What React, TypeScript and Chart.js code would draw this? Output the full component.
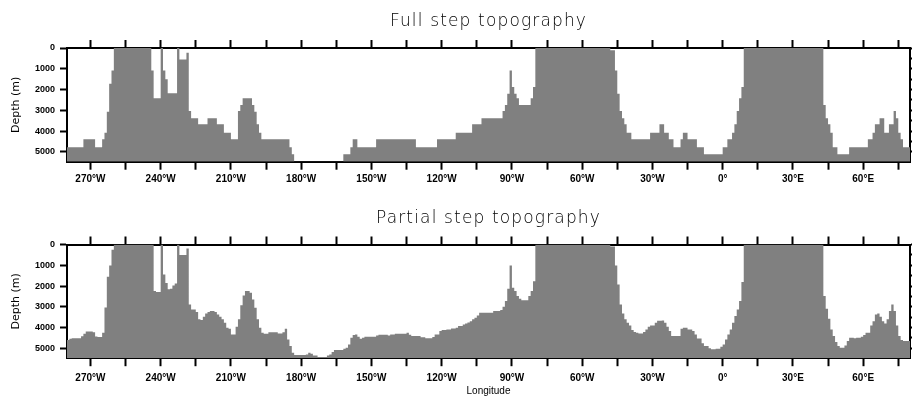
import React, { useEffect, useRef } from 'react';
import { Chart, registerables } from 'chart.js';

Chart.register(...registerables);

// ---------------- data ----------------
const LON_MIN = -280;
const LON_MAX = 80;
const DEPTH_MAX = 5475;

const panelTitles = ['Full step topography', 'Partial step topography'];
const xAxisTitle = 'Longitude';
const yAxisTitle = 'Depth (m)';

const lonTickValues = [-270, -255, -240, -225, -210, -195, -180, -165, -150, -135, -120, -105, -90, -75, -60, -45, -30, -15, 0, 15, 30, 45, 60, 75];
const lonLabelValues = [-270, -240, -210, -180, -150, -120, -90, -60, -30, 0, 30, 60];
const lonLabelTexts = ['270°W', '240°W', '210°W', '180°W', '150°W', '120°W', '90°W', '60°W', '30°W', '0°', '30°E', '60°E'];

const depthTickValues = [0, 500, 1000, 1500, 2000, 2500, 3000, 3500, 4000, 4500, 5000];
const depthLabelValues = [0, 1000, 2000, 3000, 4000, 5000];

// one value per 1° column, from 280°W eastward
const fullStepDepth = [
  4780, 4780, 4780, 4780, 4780, 4780, 4780, 4395, 4395, 4395,
  4395, 4395, 4780, 4780, 4780, 4395, 4075, 3070, 1720, 1080,
  0, 0, 0, 0, 0, 0, 0, 0, 0, 0,
  0, 0, 0, 0, 0, 0, 1080, 2424, 2424, 2424,
  0, 1080, 1510, 2183, 2183, 2183, 2183, 0, 550, 550,
  550, 230, 3030, 3386, 3386, 3386, 3675, 3675, 3675, 3675,
  3386, 3386, 3386, 3386, 3675, 3675, 3675, 4075, 4075, 4075,
  4395, 4395, 4395, 3030, 2745, 2424, 2424, 2424, 2424, 2745,
  3065, 3675, 4075, 4395, 4395, 4395, 4395, 4395, 4395, 4395,
  4395, 4395, 4395, 4395, 4395, 4780, 5115, 5600, 5600, 5600,
  5600, 5600, 5600, 5600, 5600, 5600, 5600, 5600, 5600, 5600,
  5600, 5600, 5600, 5600, 5600, 5600, 5600, 5600, 5115, 5115,
  5115, 4780, 4395, 4395, 4780, 4780, 4780, 4780, 4780, 4780,
  4780, 4780, 4395, 4395, 4395, 4395, 4395, 4395, 4395, 4395,
  4395, 4395, 4395, 4395, 4395, 4395, 4395, 4395, 4395, 4780,
  4780, 4780, 4780, 4780, 4780, 4780, 4780, 4780, 4395, 4395,
  4395, 4395, 4395, 4395, 4395, 4395, 4075, 4075, 4075, 4075,
  4075, 4075, 4075, 3675, 3675, 3675, 3675, 3386, 3386, 3386,
  3386, 3386, 3386, 3386, 3386, 3386, 3030, 2745, 2200, 1080,
  1880, 2200, 2424, 2745, 2745, 2745, 2745, 2745, 2424, 1880,
  0, 0, 0, 0, 0, 0, 0, 0, 0, 0,
  0, 0, 0, 0, 0, 0, 0, 0, 0, 0,
  0, 0, 0, 0, 0, 0, 0, 0, 0, 0,
  0, 0, 110, 110, 1080, 2200, 3030, 3386, 3675, 4075,
  4075, 4395, 4395, 4395, 4395, 4395, 4395, 4395, 4395, 4075,
  4075, 4075, 4075, 3675, 3675, 4075, 4075, 4395, 4395, 4780,
  4780, 4780, 4395, 4075, 4075, 4395, 4395, 4395, 4395, 4780,
  4780, 4780, 5115, 5115, 5115, 5115, 5115, 5115, 5115, 5115,
  4780, 4780, 4395, 4395, 4075, 3675, 3030, 2424, 1880, 0,
  0, 0, 0, 0, 0, 0, 0, 0, 0, 0,
  0, 0, 0, 0, 0, 0, 0, 0, 0, 0,
  0, 0, 0, 0, 0, 0, 0, 0, 0, 0,
  0, 0, 0, 2745, 3386, 3675, 4075, 4780, 4780, 5115,
  5115, 5115, 5115, 5115, 4780, 4780, 4780, 4780, 4780, 4780,
  4780, 4780, 4395, 4395, 4075, 3675, 3675, 3386, 3386, 4075,
  4075, 3675, 3675, 3030, 3386, 4075, 4395, 4780, 4780, 4780,
];

const partialStepDepth = [
  4600, 4540, 4520, 4520, 4520, 4520, 4420, 4300, 4185, 4185,
  4185, 4230, 4430, 4460, 4460, 4250, 3030, 1550, 1010, 250,
  0, 0, 0, 0, 0, 0, 0, 0, 0, 0,
  0, 0, 0, 0, 0, 0, 0, 2245, 2290, 2290,
  0, 1440, 1850, 2160, 2130, 1970, 1875, 0, 510, 510,
  510, 190, 2885, 3125, 3125, 3255, 3600, 3630, 3480, 3320,
  3250, 3205, 3205, 3255, 3370, 3480, 3600, 3770, 4010, 4055,
  4330, 4330, 3960, 3600, 2930, 2450, 2245, 2245, 2325, 2645,
  3045, 3600, 4010, 4250, 4300, 4300, 4230, 4230, 4230, 4230,
  4290, 4290, 4220, 4055, 4570, 4890, 5210, 5320, 5320, 5320,
  5320, 5320, 5300, 5210, 5260, 5340, 5340, 5420, 5420, 5420,
  5420, 5340, 5300, 5180, 5080, 5080, 5080, 5080, 5020, 4970,
  4810, 4490, 4360, 4330, 4440, 4540, 4490, 4440, 4440, 4440,
  4440, 4440, 4380, 4345, 4345, 4345, 4345, 4380, 4330, 4330,
  4300, 4300, 4300, 4300, 4300, 4250, 4345, 4400, 4400, 4410,
  4410, 4470, 4470, 4520, 4520, 4520, 4460, 4330, 4330, 4170,
  4120, 4120, 4090, 4090, 4040, 4040, 4010, 3925, 3925, 3850,
  3800, 3750, 3690, 3605, 3530, 3415, 3285, 3285, 3285, 3285,
  3285, 3285, 3205, 3205, 3205, 3155, 3000, 2725, 2130, 1010,
  2085, 2245, 2485, 2610, 2690, 2690, 2690, 2485, 2245, 1765,
  0, 0, 0, 0, 0, 0, 0, 0, 0, 0,
  0, 0, 0, 0, 0, 0, 0, 0, 0, 0,
  0, 0, 0, 0, 0, 0, 0, 0, 0, 0,
  0, 0, 100, 100, 1010, 1925, 2885, 3320, 3605, 3770,
  3895, 4120, 4215, 4250, 4280, 4280, 4215, 4090, 3960, 3895,
  3895, 3770, 3670, 3670, 3655, 3770, 3960, 4170, 4410, 4410,
  4410, 4410, 4055, 4010, 4010, 4090, 4090, 4170, 4330, 4530,
  4530, 4760, 4890, 4890, 5000, 5050, 5050, 5020, 5020, 4920,
  4810, 4570, 4330, 4090, 3765, 3445, 3125, 2725, 1810, 0,
  0, 0, 0, 0, 0, 0, 0, 0, 0, 0,
  0, 0, 0, 0, 0, 0, 0, 0, 0, 0,
  0, 0, 0, 0, 0, 0, 0, 0, 0, 0,
  0, 0, 0, 2485, 3095, 3575, 4090, 4410, 4700, 4890,
  4970, 4970, 4860, 4650, 4490, 4490, 4520, 4490, 4490, 4440,
  4360, 4250, 4250, 3895, 3690, 3365, 3320, 3480, 3690, 3800,
  3605, 3205, 2885, 3205, 3895, 4410, 4600, 4650, 4650, 4650,
];

// ---------------- layout / style ----------------
const CANVAS_W = 912;
const FILL = '#808080';
const TICK_FONT = '"Liberation Sans", Arial, sans-serif';
const DEPTH_FONT = '"Liberation Sans Narrow", "Liberation Sans", Arial, sans-serif';

const panelLayouts = [
  { canvasTop: 0, height: 198, areaTop: 48, areaBottom: 161.7, xLabelPad: 4, showXTitle: false, titleBaseline: 26 },
  { canvasTop: 198, height: 198, areaTop: 46.5, areaBottom: 160.2, xLabelPad: 6, showXTitle: true, titleBaseline: 25.3 },
];

const panelTitlePlugin = {
  id: 'panelTitle',
  afterDraw(chart: any, _args: any, opts: any) {
    const { ctx, chartArea } = chart;
    ctx.save();
    ctx.font = '200 17px "DejaVu Sans", sans-serif';
    ctx.fillStyle = '#000';
    ctx.textAlign = 'center';
    ctx.textBaseline = 'alphabetic';
    (ctx as any).letterSpacing = '1.15px';
    ctx.fillText(opts.text, (chartArea.left + chartArea.right) / 2, opts.baseline);
    ctx.restore();
  },
};

function lonLabel(v: number): string {
  const i = lonLabelValues.indexOf(v);
  return i >= 0 ? lonLabelTexts[i] : '';
}

function TopoPanel({ title, depths, layout }: { title: string; depths: number[]; layout: any }) {
  const ref = useRef<HTMLCanvasElement | null>(null);

  useEffect(() => {
    const canvas = ref.current;
    if (!canvas) return;
    const points = depths.map((d, k) => ({ x: LON_MIN + k, y: d }));
    points.push({ x: LON_MAX, y: depths[depths.length - 1] });

    const gridCommon = {
      drawOnChartArea: false,
      drawTicks: true,
      tickWidth: 2,
      tickColor: '#000',
    };
    const borderCommon = { display: true, color: '#000', width: 2 };

    const chart = new Chart(canvas, {
      type: 'line',
      data: {
        datasets: [
          {
            data: points,
            stepped: 'before',
            fill: { value: DEPTH_MAX },
            backgroundColor: FILL,
            borderColor: 'rgba(0,0,0,0)',
            borderWidth: 0,
            pointRadius: 0,
            xAxisID: 'x',
            yAxisID: 'y',
          } as any,
        ],
      },
      options: {
        animation: false,
        responsive: false,
        maintainAspectRatio: false,
        devicePixelRatio: 1,
        events: [],
        layout: { padding: 0 },
        plugins: {
          legend: { display: false },
          tooltip: { enabled: false },
          title: { display: false },
          panelTitle: { text: title, baseline: layout.titleBaseline },
        } as any,
        scales: {
          x: {
            type: 'linear',
            position: 'bottom',
            min: LON_MIN,
            max: LON_MAX,
            afterBuildTicks: (s: any) => {
              s.ticks = lonTickValues.map((v) => ({ value: v }));
            },
            afterFit: (s: any) => {
              s.height = layout.height - layout.areaBottom;
            },
            ticks: {
              autoSkip: false,
              maxRotation: 0,
              minRotation: 0,
              padding: layout.xLabelPad,
              color: '#000',
              font: { family: TICK_FONT, size: 10, weight: 'bold' },
              callback: (v: any) => lonLabel(Number(v)),
            },
            grid: { ...gridCommon, tickLength: 8 },
            border: borderCommon,
            title: {
              display: layout.showXTitle,
              text: xAxisTitle,
              color: '#000',
              font: { family: TICK_FONT, size: 10, lineHeight: 1 },
              padding: { top: 0, bottom: 0 },
            },
          },
          xTop: {
            type: 'linear',
            position: 'top',
            min: LON_MIN,
            max: LON_MAX,
            afterBuildTicks: (s: any) => {
              s.ticks = lonTickValues.map((v) => ({ value: v }));
            },
            afterFit: (s: any) => {
              s.height = layout.areaTop;
            },
            ticks: { display: false },
            grid: { ...gridCommon, tickLength: 8 },
            border: borderCommon,
          },
          y: {
            type: 'linear',
            position: 'left',
            reverse: true,
            min: 0,
            max: DEPTH_MAX,
            afterBuildTicks: (s: any) => {
              s.ticks = depthTickValues.map((v) => ({ value: v }));
            },
            afterFit: (s: any) => {
              s.width = 67;
            },
            ticks: {
              padding: 5,
              color: '#000',
              font: { family: DEPTH_FONT, size: 9, weight: 'bold' },
              callback: (v: any) => (depthLabelValues.indexOf(Number(v)) >= 0 ? String(v) : ''),
            },
            grid: { ...gridCommon, tickLength: 7 },
            border: borderCommon,
            title: {
              display: true,
              text: yAxisTitle,
              color: '#000',
              font: { family: '"DejaVu Sans", sans-serif', size: 11 },
              padding: { top: 10, bottom: 0 },
            },
          },
          yRight: {
            type: 'linear',
            position: 'right',
            reverse: true,
            min: 0,
            max: DEPTH_MAX,
            afterBuildTicks: (s: any) => {
              s.ticks = depthTickValues.map((v) => ({ value: v }));
            },
            afterFit: (s: any) => {
              s.width = 2;
            },
            ticks: { display: false },
            grid: { ...gridCommon, tickLength: 6 },
            border: borderCommon,
          },
        } as any,
      },
      plugins: [panelTitlePlugin as any],
    });

    return () => chart.destroy();
  }, [title, depths, layout]);

  return (
    <canvas
      ref={ref}
      width={CANVAS_W}
      height={layout.height}
      style={{
        position: 'absolute',
        left: 0,
        top: layout.canvasTop,
        width: CANVAS_W,
        height: layout.height,
        display: 'block',
      }}
    />
  );
}

export default function App() {
  return (
    <div
      style={{
        position: 'absolute',
        left: 0,
        top: 0,
        width: CANVAS_W,
        height: 396,
        overflow: 'hidden',
        background: '#fff',
      }}
    >
      <TopoPanel title={panelTitles[0]} depths={fullStepDepth} layout={panelLayouts[0]} />
      <TopoPanel title={panelTitles[1]} depths={partialStepDepth} layout={panelLayouts[1]} />
    </div>
  );
}
